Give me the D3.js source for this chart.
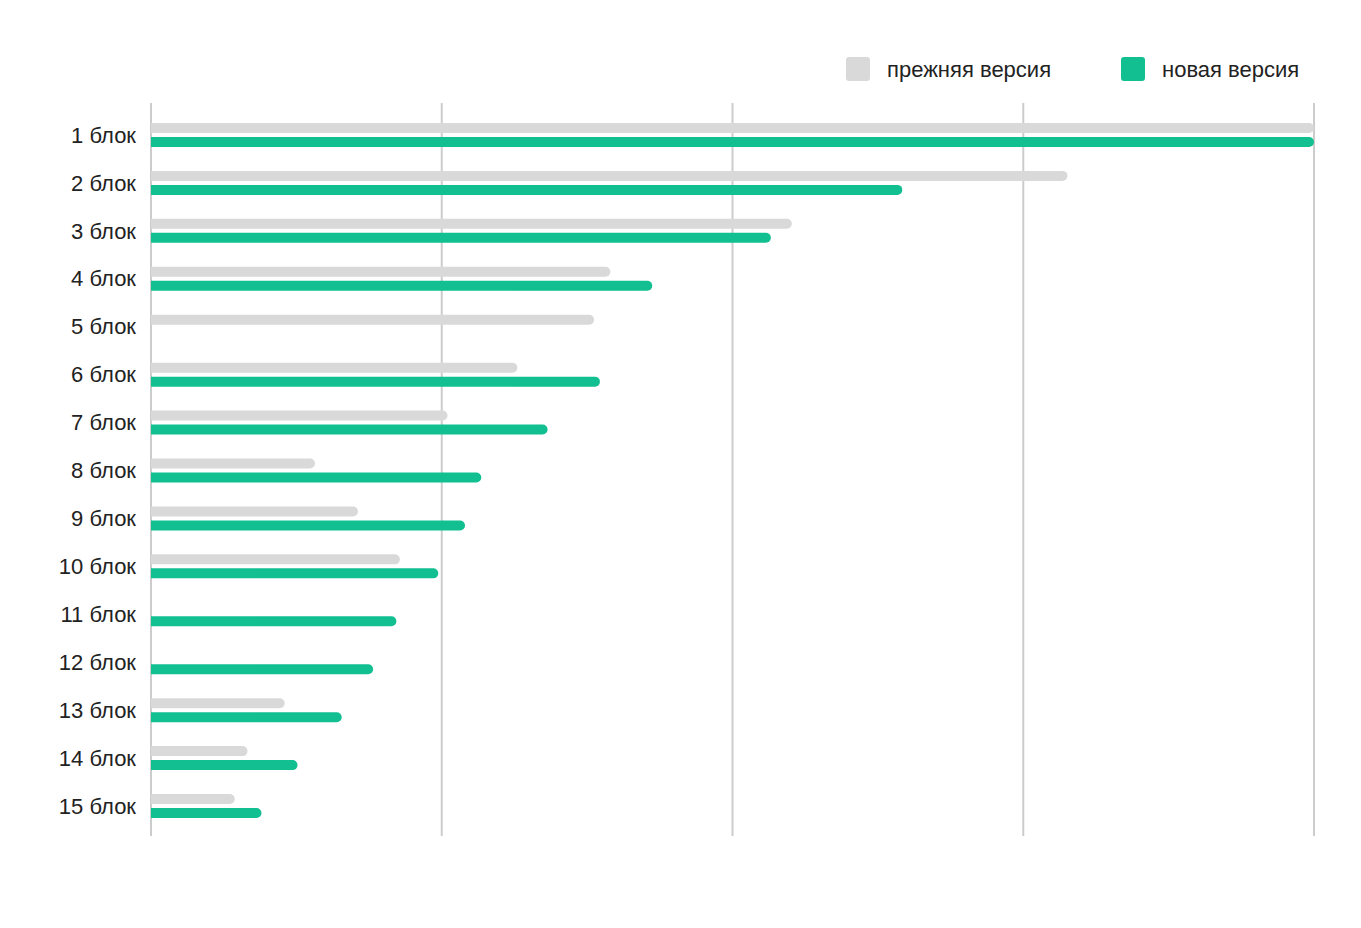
<!DOCTYPE html>
<meta charset="utf-8">
<body style="margin:0;background:#fff">
<svg id="chart" width="1361" height="928"></svg>
<script src="https://cdn.jsdelivr.net/npm/d3@7/dist/d3.min.js"></script>
<script>
var blocks = ["1 блок","2 блок","3 блок","4 блок","5 блок","6 блок","7 блок","8 блок","9 блок","10 блок","11 блок","12 блок","13 блок","14 блок","15 блок"];
var oldVals = [100,78.8,55.1,39.5,38.1,31.5,25.5,14.1,17.8,21.4,0,0,11.5,8.3,7.2];
var newVals = [100,64.6,53.3,43.1,0,38.6,34.1,28.4,27.0,24.7,21.1,19.1,16.4,12.6,9.5];
var ticks = [0,25,50,75,100];
var seriesNames = ["прежняя версия","новая версия"];
var colors = ["#d9d9d9","#12bf91"];

var svg = d3.select("#chart");
var x = d3.scaleLinear().domain([0,100]).range([151,1314]);
var y = d3.scaleBand().domain(blocks).range([111,830]);
var font = "Arial, 'Liberation Sans', sans-serif";

// grid
svg.selectAll("line.grid").data(ticks).enter().append("line")
	.attr("x1", d => x(d)).attr("x2", d => x(d))
	.attr("y1", 103).attr("y2", 836)
	.attr("stroke", "#cccccc").attr("stroke-width", 2);

// labels
svg.selectAll("text.lab").data(blocks).enter().append("text")
	.attr("x", 136).attr("y", d => y(d) + y.bandwidth()/2)
	.attr("dy", "0.35em").attr("text-anchor", "end")
	.attr("font-family", font).attr("font-size", 22).attr("fill", "#222")
	.text(d => d);

function barPath(x0, x1, yc, h) {
	var r = Math.min(h/2, (x1 - x0));
	var t = yc - h/2, b = yc + h/2;
	return "M" + x0 + "," + t + "H" + (x1 - r) + "A" + r + "," + r + " 0 0 1 " + (x1 - r) + "," + b + "H" + x0 + "Z";
}

[oldVals, newVals].forEach(function(vals, si) {
	svg.selectAll("path.s" + si).data(blocks).enter().filter((d, i) => vals[i] > 0).append("path")
		.attr("d", function(d) {
			var i = blocks.indexOf(d);
			var yc = y(d) + y.bandwidth()/2 + (si == 0 ? -7 : 7);
			return barPath(x(0), x(vals[i]), yc, 10);
		})
		.attr("fill", colors[si]);
});

// legend
var lx = [846, 1121];
seriesNames.forEach(function(n, i) {
	svg.append("rect").attr("x", lx[i]).attr("y", 57).attr("width", 24).attr("height", 24)
		.attr("rx", 3).attr("fill", colors[i]);
	svg.append("text").attr("x", lx[i] + 41).attr("y", 69).attr("dy", "0.35em")
		.attr("font-family", font).attr("font-size", 22).attr("fill", "#222").text(n);
});
</script>
</body>
